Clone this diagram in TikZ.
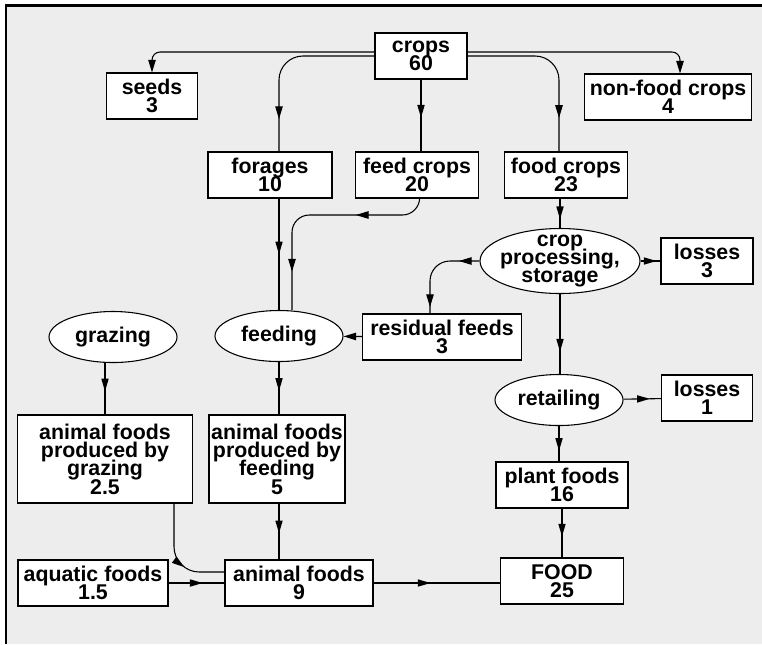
\documentclass[tikz,border=0pt]{standalone}
\usepackage{fontspec}
\setmainfont{Liberation Sans}
\usetikzlibrary{arrows.meta,shapes.geometric,decorations.markings}
\newcommand\boxfont{\bfseries\fontsize{16}{13.8}\selectfont\lineskiplimit=-20pt\relax}
\begin{document}
\begin{tikzpicture}[x=0.75pt,y=-0.75pt,>={Triangle[length=9.5pt,width=5.6pt]},line width=0.8pt]
  \tikzset{
    box/.style={draw,fill=white,align=center,inner sep=1pt,minimum height=34.5pt,font=\boxfont},
    oval/.style={box,ellipse,inner sep=-6pt,minimum height=38.25pt,minimum width=96pt},
    flow/.style={postaction={decorate},decoration={markings,mark=at position #1 with {\arrow{>}}}},
    flowtwo/.style 2 args={postaction={decorate},decoration={markings,
      mark=at position #1 with {\arrow{>}},mark=at position #2 with {\arrow{>}}}},
    tip/.pic={\fill[sharp corners] (0pt,0pt) -- (-9.5pt,2.8pt) -- (-9.5pt,-2.8pt) -- cycle;},
  }
  \definecolor{bggray}{RGB}{237,237,237}
  \useasboundingbox (0,0) rectangle (762,644);
  \fill[bggray] (6,5) rectangle (762,644);
  \draw[line width=2pt] (6,644) -- (6,5.5) -- (762,5.5);
  % crops and their uses
  \node[box,minimum width=69pt] (crops) at (421,56) {crops\\60};
  \node[box,minimum width=68.25pt] (seeds) at (152,96) {seeds\\3};
  \node[box,minimum width=125.25pt] (nonfood) at (668,97) {non-food crops\\4};
  \node[box,minimum width=93pt] (forages) at (270,175) {forages\\10};
  \node[box,minimum width=92.25pt] (feedcrops) at (417,175) {feed crops\\20};
  \node[box,minimum width=92.25pt] (foodcrops) at (566,175) {food crops\\23};
  % processing chain
  \node[oval,minimum width=120pt,minimum height=48.75pt] (proc) at (560,261) {crop\\processing,\\storage};
  \node[box,minimum width=69pt] (loss3) at (707,261) {losses\\3};
  \node[box,minimum width=119.25pt] (resid) at (442,337) {residual feeds\\3};
  \node[oval] (retail) at (559,400) {retailing};
  \node[box,minimum width=68.25pt] (loss1) at (707,398) {losses\\1};
  \node[box,minimum width=99pt] (plant) at (562,485) {plant foods\\16};
  \node[box,minimum width=92.25pt] (food) at (562,581) {FOOD\\25};
  % animal side
  \node[oval] (grazing) at (113,337) {grazing};
  \node[oval] (feeding) at (279,336) {feeding};
  \node[box,minimum width=131.25pt,minimum height=66pt] (agraz) at (105,459) {animal foods\\produced by\\grazing\\2.5};
  \node[box,minimum width=102pt,minimum height=66pt] (afeed) at (277,459) {animal foods\\produced by\\feeding\\5};
  \node[box,minimum width=112.5pt] (aquatic) at (93,583) {aquatic foods\\1.5};
  \node[box,minimum width=111pt] (anim) at (299,583) {animal foods\\9};
  \coordinate (fk) at (292,215);

  \draw[->,rounded corners=6pt] ([yshift=3pt]crops.west) -| (seeds.north);
  \draw[->,rounded corners=6pt] ([yshift=3pt]crops.east) -| ([xshift=9pt]nonfood.north);
  \draw[flow=.82,rounded corners=18pt] (crops.west) -| (feeding.north |- forages.north);
  \draw (crops.south) -- (crops.south |- feedcrops.north) pic[pos=.53,sloped]{tip};
  \draw[flow=.81,rounded corners=18pt] (crops.east) -| ([xshift=-5.25pt]foodcrops.north);
  \draw (feeding.north |- forages.south) -- (feeding.north) pic[pos=.5,sloped]{tip};
  \draw[flowtwo={.33}{.83},rounded corners=13pt] ([xshift=2pt]feedcrops.south) |- (fk) -- (fk |- feeding.north);
  \draw[->] (resid) -- (feeding);
  \draw (foodcrops.south -| proc.north) -- (proc.north) pic[pos=.7,sloped]{tip};
  \draw[flowtwo={.22}{.93},rounded corners=15pt] (proc.west) -| ([xshift=-9pt]resid.north);
  \draw (proc) -- (loss3) pic[pos=.8,sloped]{tip};
  \draw (proc.south) -- (proc.south |- retail.north) pic[pos=.72,sloped]{tip};
  \draw (retail) -- (loss1) pic[pos=.7,sloped]{tip};
  \draw (retail.south) -- (retail.south |- plant.north) pic[pos=.7,sloped]{tip};
  \draw (plant.south) -- (plant.south |- food.north) pic[pos=.57,sloped]{tip};
  \draw (agraz.north |- grazing.south) -- (agraz.north) pic[pos=.55,sloped]{tip};
  \draw (feeding.south) -- (feeding.south |- afeed.north) pic[pos=.55,sloped]{tip};
  \draw (feeding.south |- afeed.south) -- (feeding.south |- anim.north) pic[pos=.53,sloped]{tip};
  \draw[flow=.62,rounded corners=19pt] ([xshift=51.75pt]agraz.south) |- ([yshift=8.25pt]anim.west);
  \draw (aquatic) -- (anim) pic[pos=.61,sloped]{tip};
  \draw (anim.east) -- (anim.east -| food.west) pic[pos=.45,sloped]{tip};
\end{tikzpicture}
\end{document}
